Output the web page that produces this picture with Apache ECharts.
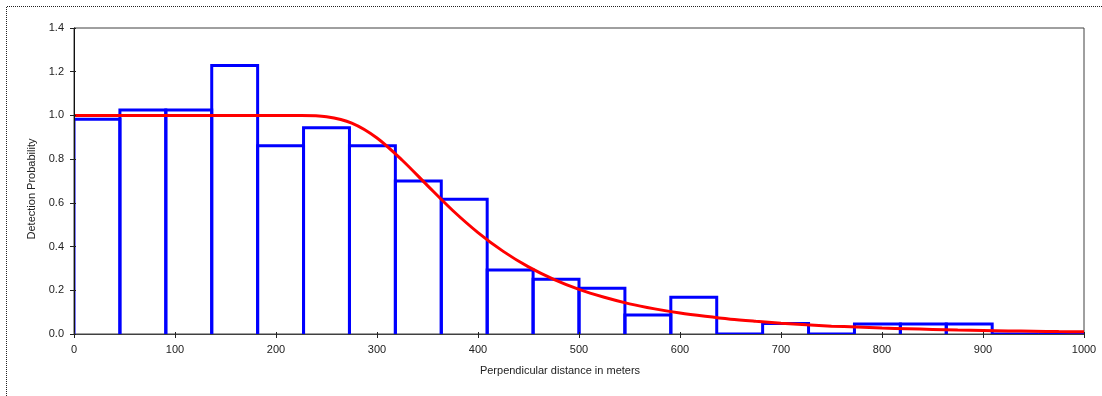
<!DOCTYPE html>
<html>
<head>
<meta charset="utf-8">
<script src="https://cdn.jsdelivr.net/npm/echarts@6/dist/echarts.min.js"></script>
<style>
html,body{margin:0;padding:0;background:#fff;}
#chart{width:1102px;height:396px;}
</style>
</head>
<body>
<div id="chart"></div>
<script>
// Histogram: 22 equal bins over 0..1000 m, heights
const binCount = 22;
const binMax = 1000;
const binHeights = [0.983, 1.025, 1.025, 1.229, 0.861, 0.944, 0.861, 0.700, 0.617, 0.293, 0.250, 0.209, 0.087, 0.168, 0.0, 0.048, 0.0, 0.046, 0.046, 0.046, 0.0, 0.0];

// Fitted detection curve
const curveX = [0, 25, 50, 75, 100, 125, 150, 175, 200, 225, 250, 275, 300, 325, 350, 375, 400, 425, 450, 475, 500, 525, 550, 575, 600, 625, 650, 675, 700, 725, 750, 775, 800, 825, 850, 875, 900, 925, 950, 975, 1000];
const curveY = [1.0, 1.0, 1.0, 1.0, 1.0, 1.0, 1.0, 1.0, 1.0, 1.0, 0.994, 0.965, 0.897, 0.795, 0.679, 0.565, 0.464, 0.378, 0.307, 0.250, 0.204, 0.168, 0.138, 0.115, 0.096, 0.081, 0.068, 0.058, 0.049, 0.042, 0.036, 0.032, 0.027, 0.024, 0.021, 0.018, 0.016, 0.014, 0.013, 0.011, 0.010];

// Axis ticks
const xTicks = [0, 100, 200, 300, 400, 500, 600, 700, 800, 900, 1000];
const yTicks = [0.0, 0.2, 0.4, 0.6, 0.8, 1.0, 1.2, 1.4];

const xTitle = 'Perpendicular distance in meters';
const yTitle = 'Detection Probability';

const binWidth = binMax / binCount;
const histData = binHeights.map((h, i) => [i * binWidth, (i + 1) * binWidth, h]);
const curveData = curveX.map((x, i) => [x, curveY[i]]);

const FONT = 'Liberation Sans, Arial, sans-serif';
const chart = echarts.init(document.getElementById('chart'), null, {renderer: 'canvas'});

const xMin = xTicks[0], xMax = xTicks[xTicks.length - 1], xInt = xTicks[1] - xTicks[0];
const yMin = yTicks[0], yMax = yTicks[yTicks.length - 1], yInt = +(yTicks[1] - yTicks[0]).toFixed(2);

chart.setOption({
  animation: false,
  backgroundColor: '#ffffff',
  grid: {left: 74, right: 18, top: 28, bottom: 62, show: true, borderColor: '#404040', borderWidth: 1, backgroundColor: 'transparent'},
  graphic: [{
    type: 'polyline',
    silent: true,
    shape: {points: [[6.5, 396], [6.5, 6.5], [1102, 6.5]]},
    style: {stroke: '#222', lineWidth: 1, lineDash: [1, 1], fill: null}
  }],
  xAxis: [{
    type: 'value', min: xMin, max: xMax, interval: xInt, z: 5,
    name: xTitle, nameLocation: 'middle', nameGap: 31,
    nameTextStyle: {fontFamily: FONT, fontSize: 11, color: '#222', padding: [0, 38, 0, 0]},
    axisLine: {show: true, lineStyle: {color: '#404040', width: 1}},
    axisTick: {show: true, length: 4, lineStyle: {color: '#222'}},
    axisLabel: {fontFamily: FONT, fontSize: 11, color: '#222', margin: 10, formatter: v => String(v)},
    splitLine: {show: false}
  }, {
    type: 'value', min: xMin, max: xMax, interval: xInt, position: 'bottom', z: 5,
    axisLine: {show: false},
    axisTick: {show: true, inside: true, length: 2, lineStyle: {color: '#222'}},
    axisLabel: {show: false},
    splitLine: {show: false}
  }],
  yAxis: [{
    type: 'value', min: yMin, max: yMax, interval: yInt, z: 5,
    name: yTitle, nameLocation: 'middle', nameGap: 32, nameRotate: 90,
    nameTextStyle: {fontFamily: FONT, fontSize: 11, color: '#222', padding: [0, 16, 0, 0]},
    axisLine: {show: true, lineStyle: {color: '#111', width: 1}},
    axisTick: {show: true, length: 4, lineStyle: {color: '#222'}},
    axisLabel: {fontFamily: FONT, fontSize: 11, color: '#222', margin: 10, formatter: v => v.toFixed(1)},
    splitLine: {show: false}
  }, {
    type: 'value', min: yMin, max: yMax, interval: yInt, position: 'left', z: 5,
    axisLine: {show: false},
    axisTick: {show: true, inside: true, length: 2, lineStyle: {color: '#222'}},
    axisLabel: {show: false},
    splitLine: {show: false}
  }],
  series: [{
    type: 'custom',
    name: 'Histogram',
    z: 2,
    clip: true,
    data: histData,
    encode: {x: [0, 1], y: 2},
    renderItem: function (params, api) {
      const x0 = api.value(0), x1 = api.value(1), h = api.value(2);
      const pts = [api.coord([x0, 0]), api.coord([x0, h]), api.coord([x1, h]), api.coord([x1, 0])];
      return {type: 'polyline', shape: {points: pts}, style: {stroke: '#0000ff', lineWidth: 3, fill: null, lineJoin: 'miter'}};
    }
  }, {
    type: 'line',
    name: 'Detection function',
    z: 3,
    data: curveData,
    smooth: 0.3,
    showSymbol: false,
    symbol: 'none',
    lineStyle: {color: '#ff0000', width: 3}
  }]
});
</script>
</body>
</html>
